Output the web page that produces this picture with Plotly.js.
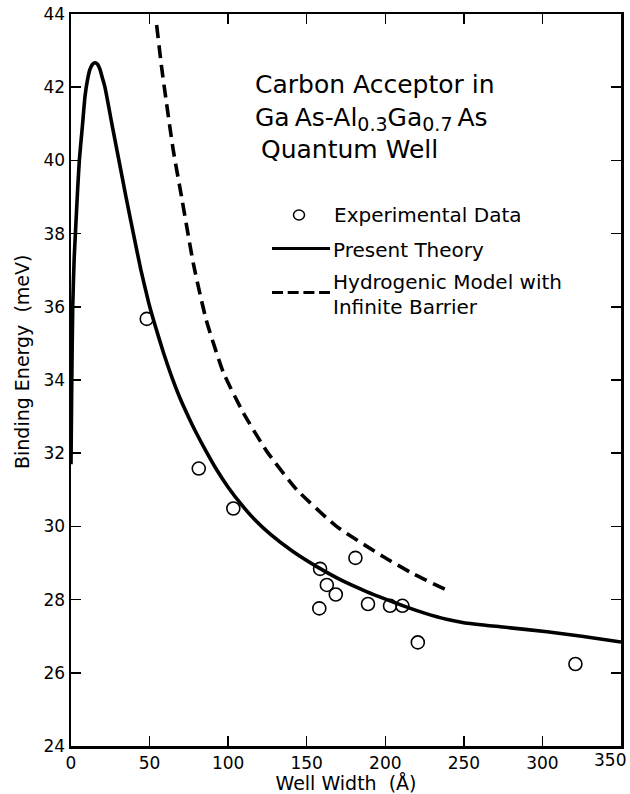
<!DOCTYPE html>
<html>
<head>
<meta charset="utf-8">
<script src="https://cdn.plot.ly/plotly-3.0.1.min.js"></script>
<style>html,body{margin:0;padding:0;background:#fff}#chart{width:630px;height:794px}</style>
</head>
<body>
<div id="chart"></div>
<script>
// Experimental data (well width in Å, binding energy in meV)
var expWidth = [48.2, 81.3, 103.3, 158.5, 162.8, 168.5, 158.0, 181.0, 189.0, 203.0, 210.9, 220.7, 321.0];
var expEnergy = [35.67, 31.58, 30.49, 28.84, 28.40, 28.14, 27.76, 29.14, 27.88, 27.83, 27.83, 26.83, 26.24];

// Present theory curve
var theoryWidth = [0, 0.5, 1.1, 2.0, 2.8, 4.2, 5.3, 7.4, 8.9, 10.5, 12.0, 13.6, 15.3, 17.0, 18.5, 20.0, 21.6, 26.0, 30.5, 35.0, 39.7, 44.5, 49.5, 52.5, 58.8, 64.0, 69.4, 75.0, 80.0, 86.0, 92.5, 100.0, 108.0, 117.0, 127.0, 141.0, 156.4, 172.0, 188.0, 201.0, 211.5, 225.0, 239.0, 250.0, 275.0, 303.0, 325.0, 350.0];
var theoryEnergy = [31.7, 34.0, 36.0, 37.3, 38.0, 39.19, 40.0, 41.01, 41.75, 42.2, 42.48, 42.62, 42.67, 42.62, 42.48, 42.25, 42.0, 41.0, 40.0, 39.0, 38.0, 37.0, 36.1, 35.64, 34.75, 34.1, 33.5, 32.97, 32.53, 32.05, 31.56, 31.07, 30.62, 30.18, 29.78, 29.32, 28.9, 28.53, 28.22, 28.0, 27.83, 27.63, 27.46, 27.37, 27.25, 27.12, 27.0, 26.84];

// Hydrogenic model with infinite barrier
var hydroWidth = [54.5, 57.5, 60.5, 65.0, 70.7, 78.0, 86.0, 97.0, 109.7, 124.6, 143.7, 169.0, 198.8, 218.0, 239.0];
var hydroEnergy = [43.7, 42.6, 41.65, 40.3, 38.92, 37.15, 35.65, 34.2, 33.1, 32.05, 31.0, 30.0, 29.17, 28.7, 28.26];

// Axis tick values / labels
var xTickVals = [0, 50, 100, 150, 200, 250, 300, 350];
var xTickText = ['0', '50', '100', '150', '200', '250', '300', ''];
var yTickVals = [24, 26, 28, 30, 32, 34, 36, 38, 40, 42, 44];

var FONT = '"DejaVu Sans", "Liberation Sans", sans-serif';

// helpers: pixel -> paper coordinates (plot area 71..621 x, 14..746 y)
function px(x) { return (x - 71) / 550; }
function py(y) { return (746 - y) / 732; }

var traces = [
  {x: theoryWidth, y: theoryEnergy, mode: 'lines', name: 'Present Theory',
   line: {color: '#000', width: 3.6, shape: 'spline', smoothing: 0.5}, hoverinfo: 'skip'},
  {x: hydroWidth, y: hydroEnergy, mode: 'lines', name: 'Hydrogenic Model with Infinite Barrier',
   line: {color: '#000', width: 3.6, dash: '13px,7px', shape: 'spline', smoothing: 0.5}, hoverinfo: 'skip'},
  {x: expWidth, y: expEnergy, mode: 'markers', name: 'Experimental Data',
   marker: {symbol: 'circle-open', size: 13, color: '#000', line: {width: 1.6, color: '#000'}}, hoverinfo: 'skip'}
];

function ann(text, x, y, size, extra) {
  var a = {text: text, xref: 'paper', yref: 'paper', x: px(x), y: py(y),
    xanchor: 'left', yanchor: 'middle', showarrow: false, align: 'left',
    font: {family: FONT, size: size, color: '#000'}};
  if (extra) for (var k in extra) a[k] = extra[k];
  return a;
}

var annotations = [
  ann('Carbon Acceptor in', 253, 84, 25),
  ann('Ga\u2009As-Al<sub><span style="font-size:19px">0.3</span></sub>Ga<sub><span style="font-size:19px">0.7</span></sub>\u2009As', 253, 119, 25),
  ann('Quantum Well', 259, 149, 25),
  ann('Experimental Data', 332, 215, 20),
  ann('Present Theory', 331, 250, 20),
  ann('Hydrogenic Model with', 331, 282, 20),
  ann('Infinite Barrier', 331, 307, 20),
  {text: 'Binding Energy\u00a0\u00a0(meV)', xref: 'paper', yref: 'paper', x: px(22), y: py(362),
   xanchor: 'center', yanchor: 'middle', textangle: -90, showarrow: false,
   font: {family: FONT, size: 19, color: '#000'}},
  {text: '350', xref: 'paper', yref: 'paper', x: px(610), y: py(760),
   xanchor: 'center', yanchor: 'middle', showarrow: false,
   font: {family: FONT, size: 17, color: '#000'}}
];

var shapes = [
  {type: 'circle', xref: 'paper', yref: 'paper', xsizemode: 'pixel', ysizemode: 'pixel',
   xanchor: px(299), yanchor: py(215), x0: -5.5, x1: 5.5, y0: -5, y1: 5,
   line: {color: '#000', width: 1.5}},
  {type: 'line', xref: 'paper', yref: 'paper', x0: px(272), x1: px(330), y0: py(248.5), y1: py(248.5),
   line: {color: '#000', width: 3}},
  {type: 'line', xref: 'paper', yref: 'paper', x0: px(272), x1: px(330), y0: py(292.5), y1: py(292.5),
   line: {color: '#000', width: 3, dash: '11px,4.7px'}}
];

var axisCommon = {
  showline: true, linecolor: '#000', linewidth: 2.5, mirror: 'ticks',
  ticks: 'inside', ticklen: 10, tickwidth: 1.5, tickcolor: '#000',
  showgrid: false, zeroline: false,
  tickfont: {family: FONT, size: 17, color: '#000'}
};

var layout = {
  width: 630, height: 794,
  margin: {l: 71, r: 9, t: 14, b: 48, pad: 0},
  paper_bgcolor: '#fff', plot_bgcolor: '#fff',
  showlegend: false,
  xaxis: Object.assign({}, axisCommon, {range: [0, 350], tickmode: 'array', tickvals: xTickVals, ticktext: xTickText,
    title: {text: 'Well Width\u00a0\u00a0(\u00c5)', font: {family: FONT, size: 19, color: '#000'}, standoff: 5}}),
  yaxis: Object.assign({}, axisCommon, {range: [24, 44], tickmode: 'array', tickvals: yTickVals}),
  annotations: annotations,
  shapes: shapes
};

Plotly.newPlot('chart', traces, layout, {staticPlot: true, displayModeBar: false});
</script>
</body>
</html>
